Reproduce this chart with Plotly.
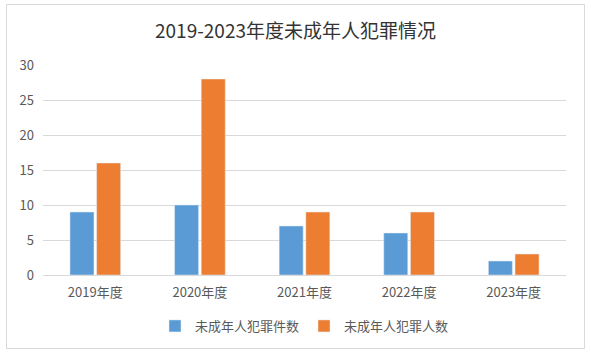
import plotly.graph_objects as go

categories = ["2019年度", "2020年度", "2021年度", "2022年度", "2023年度"]
cases = [9, 10, 7, 6, 2]
persons = [16, 28, 9, 9, 3]
series_names = ["未成年人犯罪件数", "未成年人犯罪人数"]
title_text = "2019-2023年度未成年人犯罪情况"

W, H = 591, 359
ml, mr, mt, mb = 43, 25, 65, 84
pw = W - ml - mr
ph = H - mt - mb

font = "Noto Sans CJK SC, Microsoft YaHei, sans-serif"

fig = go.Figure()
fig.add_trace(go.Bar(x=categories, y=cases, name=series_names[0], marker_color="#5B9BD5"))
fig.add_trace(go.Bar(x=categories, y=persons, name=series_names[1], marker_color="#ED7D31"))

def px_x(x):
    return (x - ml) / pw

def px_y(y):
    return (H - mb - y) / ph

fig.update_layout(
    width=W, height=H,
    margin=dict(l=ml, r=mr, t=mt, b=mb, autoexpand=False),
    paper_bgcolor="white", plot_bgcolor="white",
    barmode="group", bargap=0.49, bargroupgap=0.1,
    font=dict(family=font, size=13, color="#595959"),
    title=dict(text=title_text, x=0.5, xanchor="center", y=1 - 31 / H, yanchor="middle",
               font=dict(family=font, size=19, color="#333333")),
    xaxis=dict(showgrid=False, showline=False, ticks="", automargin=False,
               tickfont=dict(size=13, color="#595959"), ticklabelstandoff=8),
    yaxis=dict(range=[0, 30], dtick=5, showgrid=True, gridcolor="#D9D9D9", gridwidth=1,
               zeroline=True, zerolinecolor="#D9D9D9", zerolinewidth=1, showline=False,
               automargin=False, ticks="", tickfont=dict(size=13, color="#595959"),
               ticklabelstandoff=8),
    legend=dict(orientation="h", x=0.5, xanchor="center", y=px_y(326), yanchor="middle",
                font=dict(size=13, color="#595959"), itemwidth=30, traceorder="normal"),
    shapes=[dict(type="rect", xref="paper", yref="paper",
                 x0=px_x(6.5), x1=px_x(584.5), y0=px_y(348.5), y1=px_y(4.5),
                 line=dict(color="#D9D9D9", width=1), fillcolor="rgba(0,0,0,0)", layer="below")],
)

fig.write_html("out.html", config={"displayModeBar": False},
               post_script="document.body.style.margin='0';")
